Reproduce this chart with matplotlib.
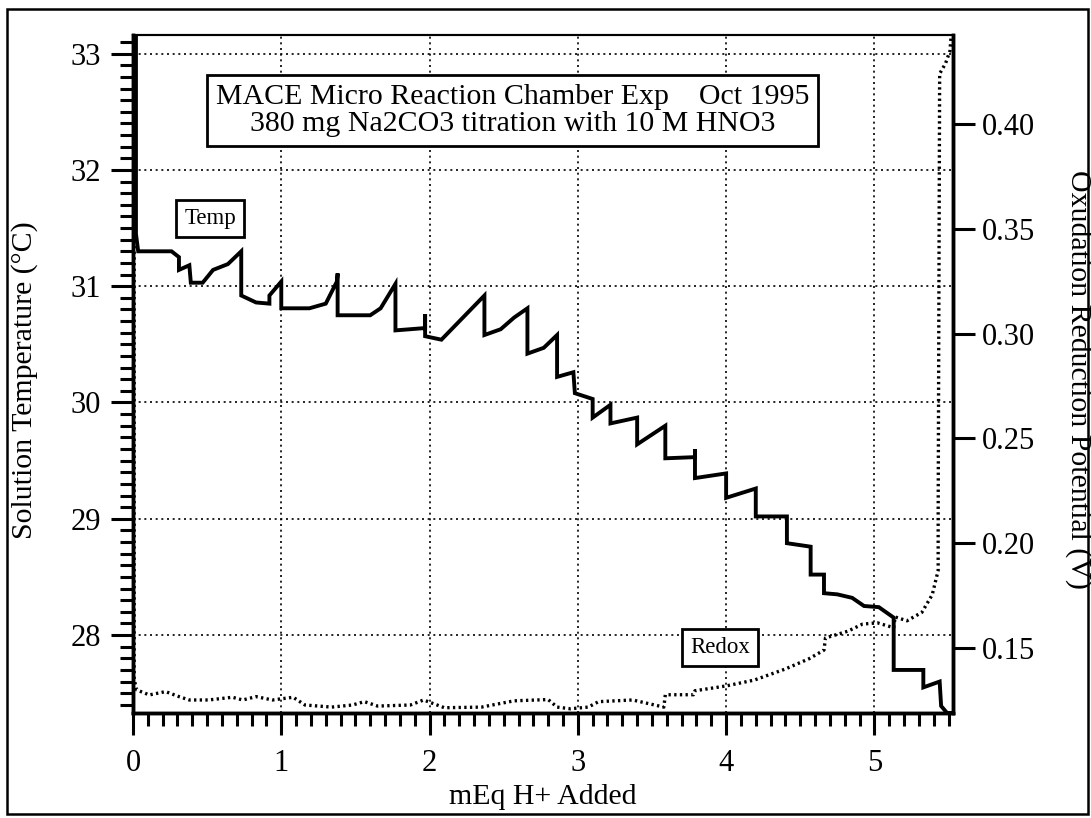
import matplotlib
matplotlib.use('Agg')
import matplotlib.pyplot as plt
from matplotlib.ticker import MultipleLocator, FormatStrFormatter
from matplotlib.patches import Rectangle

plt.rcParams['font.family'] = ['Liberation Serif', 'DejaVu Serif']

# titration data: mEq H+ added vs solution temperature (C)
temp_x = [0.02, 0.02, 0.035, 0.26, 0.31, 0.31, 0.38, 0.39, 0.47, 0.54, 0.64, 0.73, 0.73,
          0.83, 0.92, 0.92, 1.00, 1.00, 1.19, 1.30, 1.375, 1.38, 1.38, 1.60, 1.67, 1.77,
          1.77, 1.97, 1.97, 1.97, 2.08, 2.37, 2.37, 2.48, 2.57, 2.66, 2.66, 2.77, 2.86,
          2.86, 2.97, 2.98, 3.10, 3.10, 3.22, 3.22, 3.40, 3.40, 3.59, 3.59, 3.79, 3.79,
          3.79, 4.00, 4.00, 4.20, 4.20, 4.41, 4.41, 4.57, 4.57, 4.66, 4.66, 4.75, 4.85,
          4.93, 5.03, 5.13, 5.13, 5.33, 5.33, 5.44, 5.45, 5.49, 5.53]
temp_c = [33.3, 31.45, 31.30, 31.30, 31.25, 31.14, 31.18, 31.03, 31.03, 31.14, 31.19,
          31.30, 30.92, 30.86, 30.85, 30.92, 31.04, 30.81, 30.81, 30.85, 31.04, 31.11,
          30.75, 30.75, 30.81, 31.02, 30.62, 30.64, 30.76, 30.57, 30.54, 30.92, 30.58,
          30.63, 30.73, 30.81, 30.42, 30.47, 30.58, 30.22, 30.26, 30.08, 30.03, 29.87,
          29.98, 29.82, 29.87, 29.64, 29.80, 29.52, 29.53, 29.60, 29.35, 29.39, 29.18,
          29.26, 29.02, 29.02, 28.79, 28.76, 28.52, 28.52, 28.36, 28.35, 28.32, 28.25,
          28.24, 28.15, 27.70, 27.70, 27.55, 27.60, 27.39, 27.33, 27.33]

# oxidation reduction potential (V)
redox_x = [0.008, 0.008, 0.025, 0.11, 0.22, 0.31, 0.38, 0.51, 0.67, 0.74, 0.83, 0.94, 1.08,
           1.16, 1.34, 1.48, 1.56, 1.65, 1.87, 1.96, 2.10, 2.35, 2.57, 2.80, 2.86, 2.95,
           3.07, 3.14, 3.37, 3.58, 3.59, 3.78, 3.79, 4.00, 4.19, 4.40, 4.56, 4.66, 4.67,
           4.82, 4.92, 5.02, 5.13, 5.14, 5.22, 5.32, 5.39, 5.43, 5.43, 5.44, 5.48, 5.51,
           5.52]
redox_v = [0.45, 0.135, 0.130, 0.1276, 0.1292, 0.1268, 0.1252, 0.1252, 0.1265, 0.1252,
           0.1268, 0.1252, 0.1265, 0.1228, 0.1218, 0.1228, 0.1244, 0.1223, 0.1228, 0.1252,
           0.1215, 0.1218, 0.1248, 0.1254, 0.1218, 0.1210, 0.1218, 0.1244, 0.1252, 0.1218,
           0.1277, 0.1277, 0.1296, 0.1319, 0.1347, 0.140, 0.1449, 0.149, 0.1548, 0.158,
           0.1614, 0.162, 0.1597, 0.1648, 0.163, 0.167, 0.1754, 0.187, 0.2126, 0.424,
           0.429, 0.435, 0.445]

temp_ticks = [28, 29, 30, 31, 32, 33]
redox_ticks = [0.15, 0.20, 0.25, 0.30, 0.35, 0.40]

fig = plt.figure(figsize=(10.91, 8.18), dpi=100)
ax = fig.add_axes([0.1219, 0.1284, 0.7516, 0.8288])
ax2 = ax.twinx()

ax.plot(temp_x, temp_c, color='black', lw=2.8, solid_joinstyle='miter')
ax2.plot(redox_x, redox_v, color='black', lw=2.4, linestyle=(0, (0.7, 1.0)))

ax.set_xlim(0, 5.53)
ax.set_ylim(27.33, 33.16)
ax2.set_ylim(0.119, 0.4425)

ax.xaxis.set_major_locator(MultipleLocator(1))
ax.xaxis.set_minor_locator(MultipleLocator(0.1))
ax.set_yticks(temp_ticks)
ax.yaxis.set_minor_locator(MultipleLocator(0.1))
ax2.set_yticks(redox_ticks)
ax2.yaxis.set_major_formatter(FormatStrFormatter('%.2f'))

ax.grid(True, which='major', color='black', lw=1.2, linestyle=(0, (1.2, 2.2)))

ax.tick_params(axis='both', which='major', direction='out', length=16, width=2.2,
               labelsize=22, top=False, right=False)
ax.tick_params(axis='both', which='minor', direction='out', length=9.5, width=2.2,
               top=False, right=False)
ax.tick_params(axis='y', pad=7)
ax.tick_params(axis='x', pad=10)
ax2.tick_params(axis='y', which='major', direction='out', length=16, width=2.2,
                labelsize=22, pad=5)

for a in (ax, ax2):
    for side in ('left', 'right', 'bottom'):
        a.spines[side].set_linewidth(2.5)
    a.spines['top'].set_linewidth(1.5)

ax.set_xlabel('mEq H+ Added', fontsize=21.5, labelpad=4)
fig.text(25 / 1091, 1 - 380 / 818, 'Solution Temperature (\u00b0C)', rotation=90,
         ha='center', va='center', fontsize=21.5)
fig.text(1078 / 1091, 1 - 380 / 818, 'Oxudation Reduction Potential (V)', rotation=-90,
         ha='center', va='center', fontsize=21.5)

box = dict(boxstyle='square,pad=0.3', fc='white', ec='black', lw=2)
ax2.text(0.463, 0.889,
         'MACE Micro Reaction Chamber Exp    Oct 1995\n380 mg Na2CO3 titration with 10 M HNO3',
         transform=ax2.transAxes, ha='center', va='center', fontsize=21.5,
         linespacing=1.05, bbox=box)
ax2.text(0.094, 0.730, 'Temp', transform=ax2.transAxes, ha='center', va='center',
         fontsize=16.5, bbox=dict(boxstyle='square,pad=0.35', fc='white', ec='black', lw=2))
ax2.text(0.716, 0.097, 'Redox', transform=ax2.transAxes, ha='center', va='center',
         fontsize=16.5, bbox=dict(boxstyle='square,pad=0.35', fc='white', ec='black', lw=2))

# outer frame around the whole figure
fig.patches.append(Rectangle((7 / 1091, 4 / 818), 1081 / 1091, 805 / 818,
                             transform=fig.transFigure, fill=False, ec='black', lw=1.8))

fig.savefig('out.png', dpi=100)
